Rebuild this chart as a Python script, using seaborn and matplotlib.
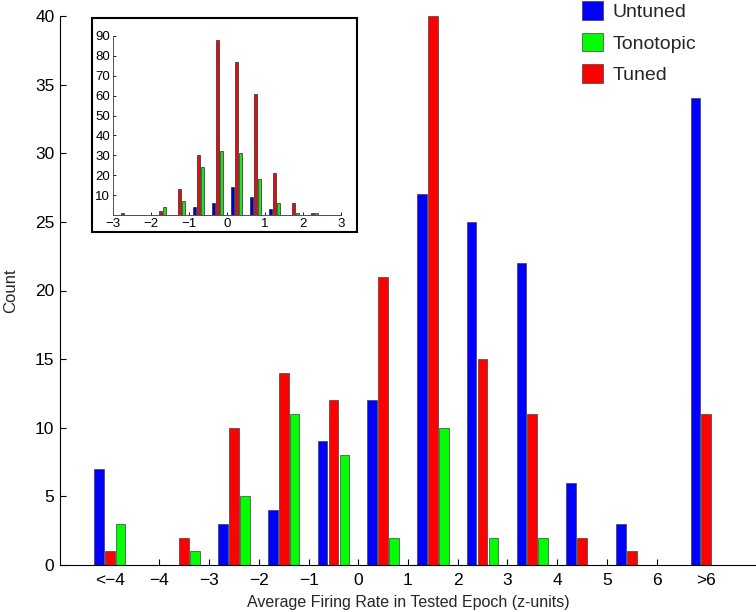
import matplotlib
matplotlib.use("Agg")
import matplotlib.pyplot as plt
from matplotlib.patches import Rectangle
import seaborn as sns
import pandas as pd

# ---- main histogram data ----
main_bin_centers = [-5, -3.5, -2.5, -1.5, -0.5, 0.5, 1.5, 2.5, 3.5, 4.5, 5.5, 7]
untuned = [7, 0, 3, 4, 9, 12, 27, 25, 22, 6, 3, 34]
tuned = [1, 2, 10, 14, 12, 21, 40, 15, 11, 2, 1, 11]
tonotopic = [3, 1, 5, 11, 8, 2, 10, 2, 2, 0, 0, 0]
main_tick_pos = [-5, -4, -3, -2, -1, 0, 1, 2, 3, 4, 5, 6, 7]
main_tick_labels = ["<\u22124", "\u22124", "\u22123", "\u22122", "\u22121", "0", "1",
                    "2", "3", "4", "5", "6", ">6"]
main_yticks = [0, 5, 10, 15, 20, 25, 30, 35, 40]

# ---- inset histogram data ----
inset_centers = [-2.75, -2.25, -1.75, -1.25, -0.75, -0.25, 0.25, 0.75, 1.25, 1.75, 2.25]
inset_untuned = [0, 0, 0, 0, 4, 6, 14, 9, 3, 0, 0]
inset_tuned = [1, 0, 2, 13, 30, 88, 77, 61, 21, 6, 1]
inset_tonotopic = [0, 0, 4, 7, 24, 32, 31, 18, 6, 1, 1]
inset_xticks = [-3, -2, -1, 0, 1, 2, 3]
inset_yticks = [10, 20, 30, 40, 50, 60, 70, 80, 90]

groups_bar_order = ["Untuned", "Tuned", "Tonotopic"]
legend_order = ["Untuned", "Tonotopic", "Tuned"]
main_colors = {"Untuned": "#0000FF", "Tonotopic": "#00FF00", "Tuned": "#FF0000"}
inset_colors = {"Untuned": "#0000C8", "Tonotopic": "#22E022", "Tuned": "#E01010"}


def long_frame(centers, u, t, g):
    rows = []
    for name, vals in (("Untuned", u), ("Tuned", t), ("Tonotopic", g)):
        for c, v in zip(centers, vals):
            rows.append({"x": c, "count": v, "group": name})
    return pd.DataFrame(rows)


df_main = long_frame(main_bin_centers, untuned, tuned, tonotopic)
df_inset = long_frame(inset_centers, inset_untuned, inset_tuned, inset_tonotopic)

sns.set_style("ticks")
plt.rcParams["font.family"] = ["Liberation Sans", "DejaVu Sans"]

fig = plt.figure(figsize=(7.56, 6.12), dpi=100)
W, H = 756, 612

# main axes
ax = fig.add_axes([60 / W, 1 - 565 / H, (W - 60) / W, (565 - 16) / H])
sns.barplot(data=df_main, x="x", y="count", hue="group", hue_order=groups_bar_order,
            palette=main_colors, saturation=1, native_scale=True, width=0.66, gap=0.12,
            errorbar=None, edgecolor="0.25", linewidth=0.5, ax=ax)
ax.set_xlim(-6, 8)
ax.set_ylim(0, 40)
ax.set_xticks(main_tick_pos)
ax.set_xticklabels(main_tick_labels)
ax.set_yticks(main_yticks)
ax.tick_params(direction="in", length=4, width=0.8, labelsize=12.5, colors="black")
ax.tick_params(axis="x", pad=6)
ax.tick_params(axis="y", pad=4)
ticks = ax.xaxis.get_major_ticks()
for t in (ticks[0], ticks[-1]):
    t.tick1line.set_visible(False)
for s in ("top", "right"):
    ax.spines[s].set_visible(False)
for s in ("left", "bottom"):
    ax.spines[s].set_linewidth(0.8)
    ax.spines[s].set_color("black")
ax.set_xlabel("Average Firing Rate in Tested Epoch (z-units)", fontsize=11.5, labelpad=5)
ax.set_ylabel("Count", fontsize=12, labelpad=12)

handles, labels = ax.get_legend_handles_labels()
hmap = dict(zip(labels, handles))
ax.legend([hmap[k] for k in legend_order], legend_order, loc="upper left",
          bbox_to_anchor=(582 / W, 1 - 1 / H), bbox_transform=fig.transFigure,
          frameon=False, fontsize=14, borderpad=0, borderaxespad=0,
          handlelength=1.1, handleheight=1.1, handletextpad=0.45, labelspacing=0.6)

# inset frame
frame = Rectangle((92 / W, 1 - 232 / H), 265 / W, 214 / H, transform=fig.transFigure,
                  facecolor="white", edgecolor="black", linewidth=1.5, zorder=1)
fig.add_artist(frame)

# inset axes
axi = fig.add_axes([113 / W, 1 - 215 / H, (341 - 113) / W, (215 - 36) / H], zorder=2)
axi.set_facecolor("none")
sns.barplot(data=df_inset, x="x", y="count", hue="group", hue_order=groups_bar_order,
            palette=inset_colors, saturation=1, native_scale=True, width=0.63, gap=0.05,
            errorbar=None, edgecolor="0.15", linewidth=0.5, ax=axi, legend=False)
axi.set_xlim(-3, 3)
axi.set_ylim(0, 90)
axi.set_xticks(inset_xticks)
axi.set_yticks(inset_yticks)
axi.set_xlabel("")
axi.set_ylabel("")
axi.tick_params(direction="in", length=2.5, width=0.6, labelsize=9.5, pad=2, colors="black")
for s in ("top", "right"):
    axi.spines[s].set_visible(False)
for s in ("left", "bottom"):
    axi.spines[s].set_linewidth(0.7)
    axi.spines[s].set_color("0.3")

fig.savefig("out.png", dpi=100)
